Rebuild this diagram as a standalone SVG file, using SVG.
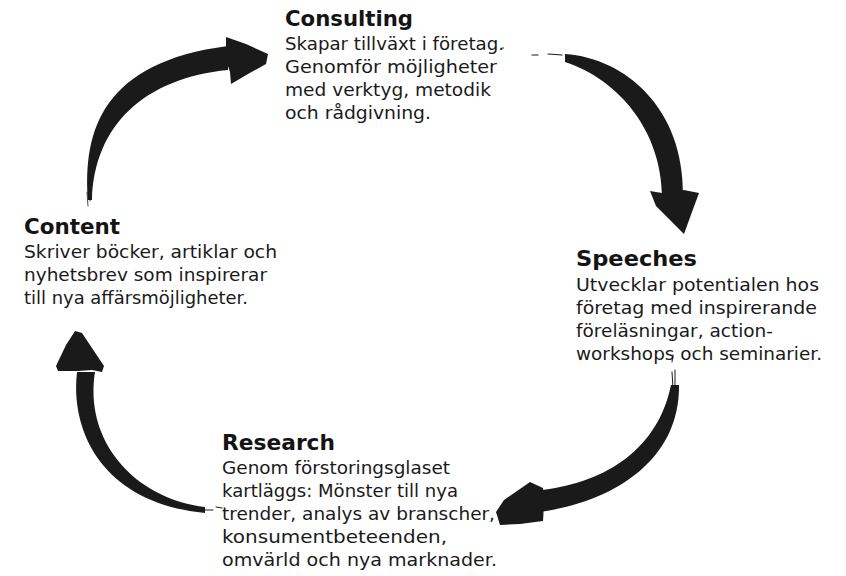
<svg xmlns="http://www.w3.org/2000/svg" width="846" height="576" viewBox="0 0 846 576">
<style>
.t{font-family:"DejaVu Sans","Liberation Sans",sans-serif;font-weight:bold;font-size:21px;fill:#141414}
.b{font-family:"DejaVu Sans","Liberation Sans",sans-serif;font-size:17.5px;fill:#1a1a1a}
.ink{fill:#1a1a1a;stroke:none}
.fray{fill:none;stroke:#1a1a1a;stroke-linecap:round}
</style>
<rect width="846" height="576" fill="#ffffff"/>
<g id="connectors">
  <g id="arrow-content-consulting">
    <path class="ink" d="M88 200 C83 130 103 62 228 46 L228 70 C145 78 94 125 92 200 Z"/>
    <path class="ink" d="M226 37 L246 44 L268 54 L266 64 L248 74 L231 84 L230 72 L226 60 Z"/>
    <path class="fray" stroke-width="0.8" d="M87 192 L88 206 M91 186 L90 201"/>
  </g>
  <g id="arrow-consulting-speeches">
    <path class="ink" d="M565 54 C625 58 684 108 683 195 L662 195 C661 132 620 80 565 62 Z"/>
    <path class="ink" d="M650 191 L668 194 L684 190 L699 193 L692 212 L684 234 L672 222 L656 206 Z"/>
    <path class="fray" stroke-width="1.2" d="M532 55 L538 55 M548 54 L562 55"/>
    <circle class="ink" cx="503" cy="48" r="0.8"/>
  </g>
  <g id="arrow-speeches-research">
    <path class="ink" d="M679 385 C680 455 622 500 540 512 L542 490 C608 482 658 448 671 385 Z"/>
    <path class="ink" d="M530 482 L543 488 L544 504 L543 521 L520 524 L500 525 L496 512 L504 500 Z"/>
    <path class="fray" stroke-width="1" d="M673 355 L672 362 M675 370 L675 386 M672 372 L673 388"/>
  </g>
  <g id="arrow-research-content">
    <path class="ink" d="M77 372 C70 432 103 503 205 513 L205 507 C133 498 84 440 95 372 Z"/>
    <path class="ink" d="M75 331 L82 333 L90 345 L104 366 L102 372 L92 370 L78 371 L58 371 L56 366 L66 345 Z"/>
    <path class="fray" stroke-width="1" d="M205 510 L213 510 M216 507 L222 508"/>
  </g>
</g>
<g id="consulting">
  <text class="t" x="285" y="26" textLength="128" lengthAdjust="spacingAndGlyphs">Consulting</text>
  <text class="b" x="285" y="50" textLength="219" lengthAdjust="spacingAndGlyphs">Skapar tillväxt i företag.</text>
  <text class="b" x="285" y="73" textLength="212" lengthAdjust="spacingAndGlyphs">Genomför möjligheter</text>
  <text class="b" x="285" y="96" textLength="206" lengthAdjust="spacingAndGlyphs">med verktyg, metodik</text>
  <text class="b" x="285" y="119" textLength="146" lengthAdjust="spacingAndGlyphs">och rådgivning.</text>
</g>
<g id="speeches">
  <text class="t" x="576" y="266" textLength="121" lengthAdjust="spacingAndGlyphs">Speeches</text>
  <text class="b" x="576" y="291" textLength="243" lengthAdjust="spacingAndGlyphs">Utvecklar potentialen hos</text>
  <text class="b" x="576" y="314" textLength="241" lengthAdjust="spacingAndGlyphs">företag med inspirerande</text>
  <text class="b" x="576" y="337" textLength="197" lengthAdjust="spacingAndGlyphs">föreläsningar, action-</text>
  <text class="b" x="576" y="360" textLength="246" lengthAdjust="spacingAndGlyphs">workshops och seminarier.</text>
</g>
<g id="content">
  <text class="t" x="24" y="234" textLength="96" lengthAdjust="spacingAndGlyphs">Content</text>
  <text class="b" x="24" y="258" textLength="253" lengthAdjust="spacingAndGlyphs">Skriver böcker, artiklar och</text>
  <text class="b" x="24" y="281" textLength="243" lengthAdjust="spacingAndGlyphs">nyhetsbrev som inspirerar</text>
  <text class="b" x="24" y="304" textLength="224" lengthAdjust="spacingAndGlyphs">till nya affärsmöjligheter.</text>
</g>
<g id="research">
  <text class="t" x="222" y="450" textLength="113" lengthAdjust="spacingAndGlyphs">Research</text>
  <text class="b" x="222" y="474" textLength="228" lengthAdjust="spacingAndGlyphs">Genom förstoringsglaset</text>
  <text class="b" x="222" y="497" textLength="236" lengthAdjust="spacingAndGlyphs">kartläggs: Mönster till nya</text>
  <text class="b" x="222" y="520" textLength="273" lengthAdjust="spacingAndGlyphs">trender, analys av branscher,</text>
  <text class="b" x="222" y="543" textLength="225" lengthAdjust="spacingAndGlyphs">konsumentbeteenden,</text>
  <text class="b" x="222" y="566" textLength="275" lengthAdjust="spacingAndGlyphs">omvärld och nya marknader.</text>
</g>
</svg>
